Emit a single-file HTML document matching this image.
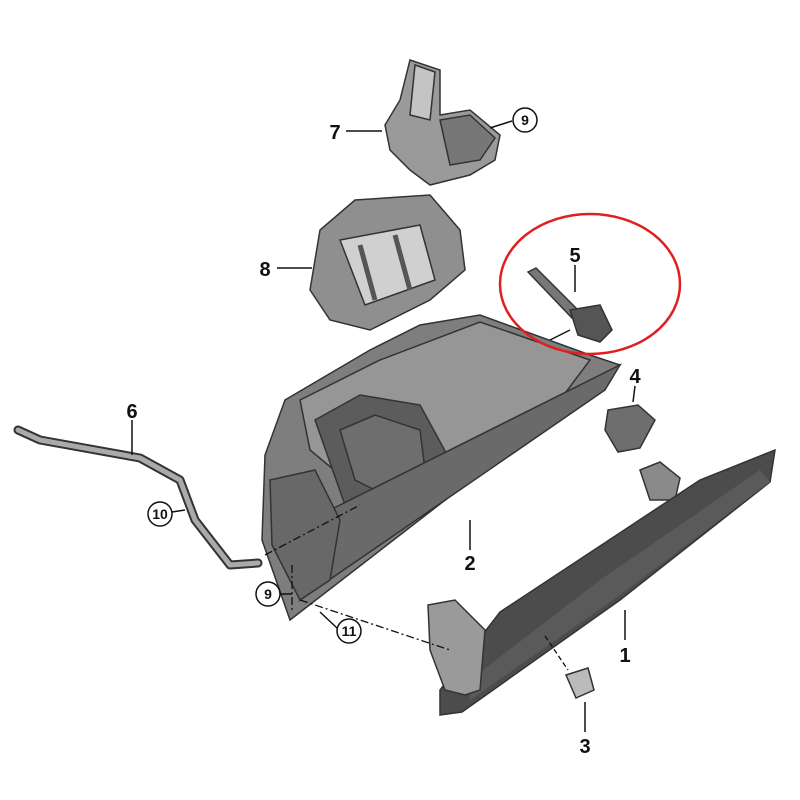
<!DOCTYPE html>
<html><head><meta charset="utf-8"><style>
html,body{margin:0;padding:0;background:#fff;}
svg{display:block;}
text{font-family:"Liberation Sans",sans-serif;font-weight:bold;fill:#111;}
</style></head><body>
<svg width="800" height="800" viewBox="0 0 800 800" xmlns="http://www.w3.org/2000/svg">
<!-- Part 7 bracket -->
<g stroke="#333" stroke-width="1.5" fill="#9a9a9a">
<polygon points="410,60 440,70 440,115 470,110 500,135 495,160 470,175 430,185 410,170 390,150 385,125 400,100"/>
<polygon points="415,65 435,72 430,120 410,115" fill="#c4c4c4"/>
<polygon points="440,120 470,115 495,138 480,160 450,165" fill="#777"/>
</g>
<!-- Part 8 frame -->
<g stroke="#333" stroke-width="1.5">
<polygon points="355,200 430,195 460,230 465,270 430,300 370,330 330,320 310,290 320,230" fill="#8f8f8f"/>
<polygon points="340,240 420,225 435,280 365,305" fill="#d0d0d0"/>
<line x1="360" y1="245" x2="375" y2="300" stroke="#555" stroke-width="5"/>
<line x1="395" y1="235" x2="410" y2="290" stroke="#555" stroke-width="5"/>
</g>
<!-- Part 2 glovebox -->
<g stroke="#333" stroke-width="1.5">
<polygon points="265,455 285,400 370,350 420,325 480,315 590,355 620,365 290,620 262,540" fill="#7e7e7e"/>
<polygon points="300,400 380,360 480,322 590,360 560,400 450,460 370,500 310,450" fill="#969696"/>
<polygon points="315,420 360,395 420,405 450,460 390,500 345,505" fill="#5c5c5c"/>
<polygon points="340,430 375,415 420,430 425,470 385,495 355,480" fill="#6e6e6e"/>
<polygon points="330,510 620,365 605,390 300,600" fill="#6a6a6a"/>
<polygon points="270,480 315,470 340,520 330,580 300,600 272,545" fill="#686868"/>
</g>
<!-- Part 5 -->
<g stroke="#333" stroke-width="1.5">
<polygon points="528,272 536,268 580,312 572,318" fill="#777"/>
<polygon points="570,310 600,305 612,330 600,342 578,335" fill="#555"/>
</g>
<line x1="550" y1="340" x2="570" y2="330" stroke="#111" stroke-width="1.3"/>
<!-- Part 4 -->
<polygon points="608,410 638,405 655,420 640,448 618,452 605,430" fill="#6e6e6e" stroke="#333" stroke-width="1.5"/>
<!-- Part 1 lid -->
<g stroke="#333" stroke-width="1.5">
<polygon points="640,470 660,462 680,478 675,500 650,500" fill="#8a8a8a"/>
<polygon points="440,715 440,690 500,612 700,480 775,450 770,482 620,600 462,712" fill="#4c4c4c"/>
<polygon points="470,700 620,595 770,482 760,470 600,580 470,680" fill="#5a5a5a" stroke="none"/>
<polygon points="428,605 455,600 485,630 480,690 465,695 445,690 430,650" fill="#9a9a9a"/>
</g>
<!-- Part 3 -->
<line x1="545" y1="636" x2="568" y2="670" stroke="#111" stroke-width="1.3" stroke-dasharray="5,3"/>
<g stroke="#333" stroke-width="1.5">
<polygon points="566,675 588,668 594,690 576,698" fill="#bbb"/>
</g>
<!-- Part 6 pipe -->
<polyline points="18,430 40,440 140,458 180,480 195,520 230,565 258,563" fill="none" stroke="#333" stroke-width="9" stroke-linejoin="round" stroke-linecap="round"/>
<polyline points="18,430 40,440 140,458 180,480 195,520 230,565 258,563" fill="none" stroke="#aaa" stroke-width="5" stroke-linejoin="round" stroke-linecap="round"/>
<!-- dash-dot lines -->
<g stroke="#111" stroke-width="1.3" stroke-dasharray="8,3,2,3" fill="none">
<line x1="292" y1="565" x2="292" y2="610"/>
<line x1="265" y1="555" x2="360" y2="505"/>
<line x1="300" y1="600" x2="450" y2="650"/>
</g>
<!-- red ellipse -->
<ellipse cx="590" cy="284" rx="90" ry="70" fill="none" stroke="#e02020" stroke-width="2.5"/>
<!-- leader lines -->
<g stroke="#111" stroke-width="1.5">
<line x1="346" y1="131" x2="382" y2="131"/>
<line x1="490" y1="128" x2="512" y2="121"/>
<line x1="277" y1="268" x2="312" y2="268"/>
<line x1="575" y1="265" x2="575" y2="292"/>
<line x1="132" y1="420" x2="132" y2="455"/>
<line x1="172" y1="512" x2="185" y2="510"/>
<line x1="470" y1="550" x2="470" y2="520"/>
<line x1="635" y1="386" x2="633" y2="402"/>
<line x1="280" y1="594" x2="292" y2="594"/>
<line x1="337" y1="628" x2="320" y2="612"/>
<line x1="625" y1="640" x2="625" y2="610"/>
<line x1="585" y1="732" x2="585" y2="702"/>
</g>
<!-- circles -->
<g fill="#fff" stroke="#111" stroke-width="1.5">
<circle cx="525" cy="120" r="12"/>
<circle cx="160" cy="514" r="12"/>
<circle cx="268" cy="594" r="12"/>
<circle cx="349" cy="631" r="12"/>
</g>
<!-- labels -->
<g font-size="20">
<text x="335" y="139" text-anchor="middle">7</text>
<text x="265" y="276" text-anchor="middle">8</text>
<text x="575" y="262" text-anchor="middle">5</text>
<text x="132" y="418" text-anchor="middle">6</text>
<text x="470" y="570" text-anchor="middle">2</text>
<text x="635" y="383" text-anchor="middle">4</text>
<text x="625" y="662" text-anchor="middle">1</text>
<text x="585" y="753" text-anchor="middle">3</text>
</g>
<g font-size="14" text-anchor="middle">
<text x="525" y="125">9</text>
<text x="160" y="519">10</text>
<text x="268" y="599">9</text>
<text x="349" y="636">11</text>
</g>
</svg>
</body></html>
